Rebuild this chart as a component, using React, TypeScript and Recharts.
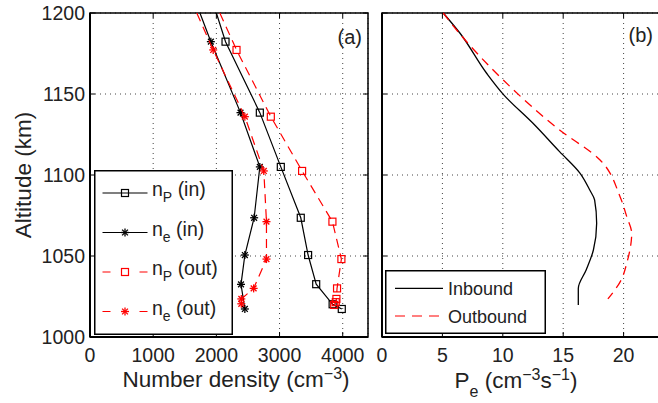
import {
	ScatterChart,
	Scatter,
	XAxis,
	YAxis,
	CartesianGrid,
	ReferenceArea,
	Legend,
	Label,
} from 'recharts';

const FONT = '"Liberation Sans", Arial, Helvetica, sans-serif';
const INK = '#222';
const RED = '#ff0000';

// axes
const ALT_TICKS = [1000, 1050, 1100, 1150, 1200];
const DENSITY_TICKS = [0, 1000, 2000, 3000, 4000];
const PROD_TICKS = [0, 5, 10, 15, 20];

// panel (a) - first value of each list is where the profile leaves the top of the box (no marker)
const NP_IN_ALT = [1200, 1182.3, 1138.5, 1105, 1073.6, 1050.6, 1032.6, 1020.2, 1017.3];
const NP_IN = [2000, 2145, 2688, 3020, 3336, 3452, 3580, 3840, 3985];
const NE_IN_ALT = [1200, 1182.3, 1138.5, 1105, 1073.6, 1050.6, 1032.5, 1017.3];
const NE_IN = [1740, 1913, 2382, 2688, 2598, 2451, 2390, 2451];
const NP_OUT_ALT = [1200, 1177.2, 1136, 1102.5, 1071.2, 1048.1, 1030, 1023.5, 1021.5, 1019.8];
const NP_OUT = [2055, 2319, 2862, 3357, 3837, 3979, 3910, 3900, 3890, 3865];
const NE_OUT_ALT = [1200, 1177.2, 1136, 1102.5, 1071.2, 1048.1, 1030, 1023.5, 1020.5];
const NE_OUT = [1690, 1950, 2451, 2751, 2793, 2793, 2590, 2395, 2395];

// panel (b)
const PE_IN_ALT = [1200, 1187.5, 1162.8, 1149.8, 1131.9, 1114.4, 1101, 1090.7, 1084.6, 1070.2, 1053.7, 1041.4, 1030, 1019.8];
const PE_IN = [5.07, 6.46, 8.66, 10.04, 12.5, 14.7, 16.4, 17.2, 17.6, 17.77, 17.5, 16.9, 16.25, 16.25];
const PE_OUT_ALT = [1200, 1189.5, 1158.6, 1127.8, 1109.3, 1086.8, 1074.3, 1064, 1045.5, 1035.2, 1023.5];
const PE_OUT = [5.07, 6.18, 10.04, 14.7, 18.05, 19.7, 20.26, 20.67, 20.26, 19.8, 18.7];

const PLOT_H = 324;
const PLOT_A_W = 278;

function toPoints(alts: number[], vals: number[], skipFirst: boolean) {
	return alts.map((alt, i) => ({ x: vals[i], y: alt, m: !(skipFirst && i === 0) }));
}

const npIn = toPoints(NP_IN_ALT, NP_IN, true);
const neIn = toPoints(NE_IN_ALT, NE_IN, true);
const npOut = toPoints(NP_OUT_ALT, NP_OUT, true);
const neOut = toPoints(NE_OUT_ALT, NE_OUT, true);
const peIn = toPoints(PE_IN_ALT, PE_IN, false);
const peOut = toPoints(PE_OUT_ALT, PE_OUT, false);

function SquareMark({ cx, cy, color }: { cx: number; cy: number; color: string }) {
	return <rect x={cx - 3.5} y={cy - 3.5} width={7} height={7} fill="none" stroke={color} strokeWidth={1.2} />;
}

function StarMark({ cx, cy, color }: { cx: number; cy: number; color: string }) {
	const r = 4;
	const d = 2.9;
	return (
		<g stroke={color} strokeWidth={1.3}>
			<line x1={cx - r} x2={cx + r} y1={cy} y2={cy} />
			<line x1={cx} x2={cx} y1={cy - r} y2={cy + r} />
			<line x1={cx - d} x2={cx + d} y1={cy - d} y2={cy + d} />
			<line x1={cx - d} x2={cx + d} y1={cy + d} y2={cy - d} />
		</g>
	);
}

const markShape = (kind: 'square' | 'star', color: string) => (props: any) => {
	if (!props.payload || !props.payload.m) return <g />;
	return kind === 'square' ? (
		<SquareMark cx={props.cx} cy={props.cy} color={color} />
	) : (
		<StarMark cx={props.cx} cy={props.cy} color={color} />
	);
};

const noShape = () => <g />;

// x ticks: tickSize 0, tickMargin 11 -> axis sits 11px above y
function makeXTick(margin: number) {
	return (props: any) => {
		const { x, y, payload } = props;
		const axisY = y - margin;
		return (
			<g>
				<line x1={x} x2={x} y1={axisY} y2={axisY - 5} stroke="#000" />
				<line x1={x} x2={x} y1={axisY - PLOT_H} y2={axisY - PLOT_H + 5} stroke="#000" />
				<text x={x} y={y} dy="0.71em" textAnchor="middle" fontSize={19.5} fontFamily={FONT} fill={INK}>
					{payload.value}
				</text>
			</g>
		);
	};
}

function AltTickA(props: any) {
	const { x, y, payload } = props;
	const axisX = x + 5;
	return (
		<g>
			<line x1={axisX} x2={axisX + 5} y1={y} y2={y} stroke="#000" />
			<line x1={axisX + PLOT_A_W} x2={axisX + PLOT_A_W - 5} y1={y} y2={y} stroke="#000" />
			<text x={x} y={y} dy="0.36em" textAnchor="end" fontSize={19.5} fontFamily={FONT} fill={INK}>
				{payload.value}
			</text>
		</g>
	);
}

function AltTickB(props: any) {
	const { x, y } = props;
	const axisX = x + 5;
	return <line x1={axisX} x2={axisX + 5} y1={y} y2={y} stroke="#000" />;
}

const densityTitle = ({ viewBox }: any) => (
	<text x={viewBox.x + viewBox.width / 2 + 7} y={viewBox.y + 50} textAnchor="middle" fontSize={22.5} fontFamily={FONT} fill={INK}>
		Number density (cm
		<tspan dy={-8} fontSize={16}>−3</tspan>
		<tspan dy={8}>)</tspan>
	</text>
);

const prodTitle = ({ viewBox }: any) => (
	<text x={viewBox.x + 134} y={viewBox.y + 51} textAnchor="middle" fontSize={22.5} fontFamily={FONT} fill={INK}>
		P
		<tspan dy={9} fontSize={16}>e</tspan>
		<tspan dy={-9}> (cm</tspan>
		<tspan dy={-8} fontSize={16}>−3</tspan>
		<tspan dy={8}>s</tspan>
		<tspan dy={-8} fontSize={16}>−1</tspan>
		<tspan dy={8}>)</tspan>
	</text>
);

const altTitle = ({ viewBox }: any) => {
	const x = viewBox.x + 31;
	const y = viewBox.y + viewBox.height / 2;
	return (
		<text x={x} y={y} transform={`rotate(-90, ${x}, ${y})`} textAnchor="middle" fontSize={22.5} fontFamily={FONT} fill={INK}>
			Altitude (km)
		</text>
	);
};

const tagA = ({ viewBox }: any) => (
	<text x={viewBox.x + viewBox.width - 6} y={viewBox.y + 31} textAnchor="end" fontSize={20} fontFamily={FONT} fill={INK}>
		(a)
	</text>
);

const tagB = ({ viewBox }: any) => (
	<text x={viewBox.x + 271} y={viewBox.y + 29} textAnchor="end" fontSize={20} fontFamily={FONT} fill={INK}>
		(b)
	</text>
);

const DENSITY_ROWS = [
	{ sub: 'P', tag: '(in)', color: '#000', dash: undefined, kind: 'square' as const },
	{ sub: 'e', tag: '(in)', color: '#000', dash: undefined, kind: 'star' as const },
	{ sub: 'P', tag: '(out)', color: RED, dash: '8 29 8', kind: 'square' as const },
	{ sub: 'e', tag: '(out)', color: RED, dash: '8 29 8', kind: 'star' as const },
];

function DensityLegend() {
	return (
		<svg width={139} height={165} style={{ display: 'block' }}>
			<rect x={0.75} y={0.75} width={137.5} height={163.5} fill="#fff" stroke="#000" strokeWidth={1.5} />
			{DENSITY_ROWS.map((r, i) => {
				const cy = 23 + i * 39.5;
				return (
					<g key={i}>
						<line x1={8.5} x2={53.5} y1={cy} y2={cy} stroke={r.color} strokeWidth={1.2} strokeDasharray={r.dash} />
						{r.kind === 'square' ? <SquareMark cx={31} cy={cy} color={r.color} /> : <StarMark cx={31} cy={cy} color={r.color} />}
						<text x={58} y={cy + 3} fontSize={19.5} fontFamily={FONT} fill={INK}>
							n
							<tspan dy={6} fontSize={14}>{r.sub}</tspan>
							<tspan dy={-6}> {r.tag}</tspan>
						</text>
					</g>
				);
			})}
		</svg>
	);
}

function ProdLegend() {
	return (
		<svg width={161} height={64} style={{ display: 'block' }}>
			<rect x={0.75} y={0.75} width={159.5} height={62.5} fill="#fff" stroke="#000" strokeWidth={1.5} />
			<line x1={10} x2={58} y1={18.3} y2={18.3} stroke="#000" strokeWidth={1.2} />
			<text x={63} y={18.3 + 6.5} fontSize={18} fontFamily={FONT} fill={INK}>Inbound</text>
			<line x1={10} x2={58} y1={46} y2={46} stroke={RED} strokeWidth={1.2} strokeDasharray="10 7" />
			<text x={63} y={46 + 6.5} fontSize={18} fontFamily={FONT} fill={INK}>Outbound</text>
		</svg>
	);
}

export default function App() {
	return (
		<div style={{ position: 'absolute', left: 0, top: 0, width: 658, height: 403, overflow: 'hidden', background: '#fff' }}>
			<div style={{ position: 'absolute', left: 0, top: 0 }}>
				<ScatterChart width={370} height={403} margin={{ top: 13, right: 2, bottom: 0, left: 0 }}>
					<CartesianGrid stroke="#444" strokeDasharray="1 4" />
					<XAxis
						type="number"
						dataKey="x"
						domain={[0, 4400]}
						ticks={DENSITY_TICKS}
						interval={0}
						height={66}
						tickSize={0}
						tickMargin={11}
						tick={makeXTick(11)}
						axisLine={{ stroke: '#000', strokeWidth: 2 }}
					>
						<Label content={densityTitle} />
					</XAxis>
					<YAxis
						type="number"
						dataKey="y"
						domain={[1000, 1200]}
						ticks={ALT_TICKS}
						interval={0}
						width={90}
						tickSize={0}
						tickMargin={5}
						tick={AltTickA}
						axisLine={{ stroke: '#000', strokeWidth: 2 }}
					>
						<Label content={altTitle} />
					</YAxis>
					<ReferenceArea
						x1={0}
						x2={4400}
						y1={1000}
						y2={1200}
						fill="none"
						stroke="#000"
						strokeWidth={1.5}
						label={{ content: tagA }}
					/>
					<Scatter data={npIn} isAnimationActive={false} fill="#000" shape={markShape('square', '#000')} line={{ stroke: '#000', strokeWidth: 1.2 }} />
					<Scatter data={neIn} isAnimationActive={false} fill="#000" shape={markShape('star', '#000')} line={{ stroke: '#000', strokeWidth: 1.2 }} />
					<Scatter data={npOut} isAnimationActive={false} fill={RED} shape={markShape('square', RED)} line={{ stroke: RED, strokeWidth: 1.2, strokeDasharray: '9 6' }} />
					<Scatter data={neOut} isAnimationActive={false} fill={RED} shape={markShape('star', RED)} line={{ stroke: RED, strokeWidth: 1.2, strokeDasharray: '9 6' }} />
					<Legend
						layout="vertical"
						align="center"
						verticalAlign="middle"
						content={() => <DensityLegend />}
						wrapperStyle={{ left: 94, top: 170, width: 139, height: 165 }}
					/>
				</ScatterChart>
			</div>
			<div style={{ position: 'absolute', left: 372, top: 0 }}>
				<ScatterChart width={314} height={403} margin={{ top: 13, right: 2, bottom: 0, left: 0 }}>
					<CartesianGrid stroke="#444" strokeDasharray="1 4" />
					<XAxis
						type="number"
						dataKey="x"
						domain={[0, 25]}
						ticks={PROD_TICKS}
						interval={0}
						height={66}
						tickSize={0}
						tickMargin={11}
						tick={makeXTick(11)}
						axisLine={{ stroke: '#000', strokeWidth: 2 }}
					>
						<Label content={prodTitle} />
					</XAxis>
					<YAxis
						type="number"
						dataKey="y"
						domain={[1000, 1200]}
						ticks={ALT_TICKS}
						interval={0}
						width={10}
						tickSize={0}
						tickMargin={5}
						tick={AltTickB}
						axisLine={{ stroke: '#000', strokeWidth: 2 }}
					/>
					<ReferenceArea
						x1={0}
						x2={25}
						y1={1000}
						y2={1200}
						fill="none"
						stroke="#000"
						strokeWidth={1.5}
						label={{ content: tagB }}
					/>
					<Scatter data={peIn} isAnimationActive={false} fill="#000" shape={noShape} line={{ stroke: '#000', strokeWidth: 1.3 }} lineJointType="monotoneY" />
					<Scatter data={peOut} isAnimationActive={false} fill={RED} shape={noShape} line={{ stroke: RED, strokeWidth: 1.3, strokeDasharray: '9 6' }} lineJointType="monotoneY" />
					<Legend
						layout="vertical"
						align="center"
						verticalAlign="middle"
						content={() => <ProdLegend />}
						wrapperStyle={{ left: 13, top: 270, width: 161, height: 64 }}
					/>
				</ScatterChart>
			</div>
		</div>
	);
}
